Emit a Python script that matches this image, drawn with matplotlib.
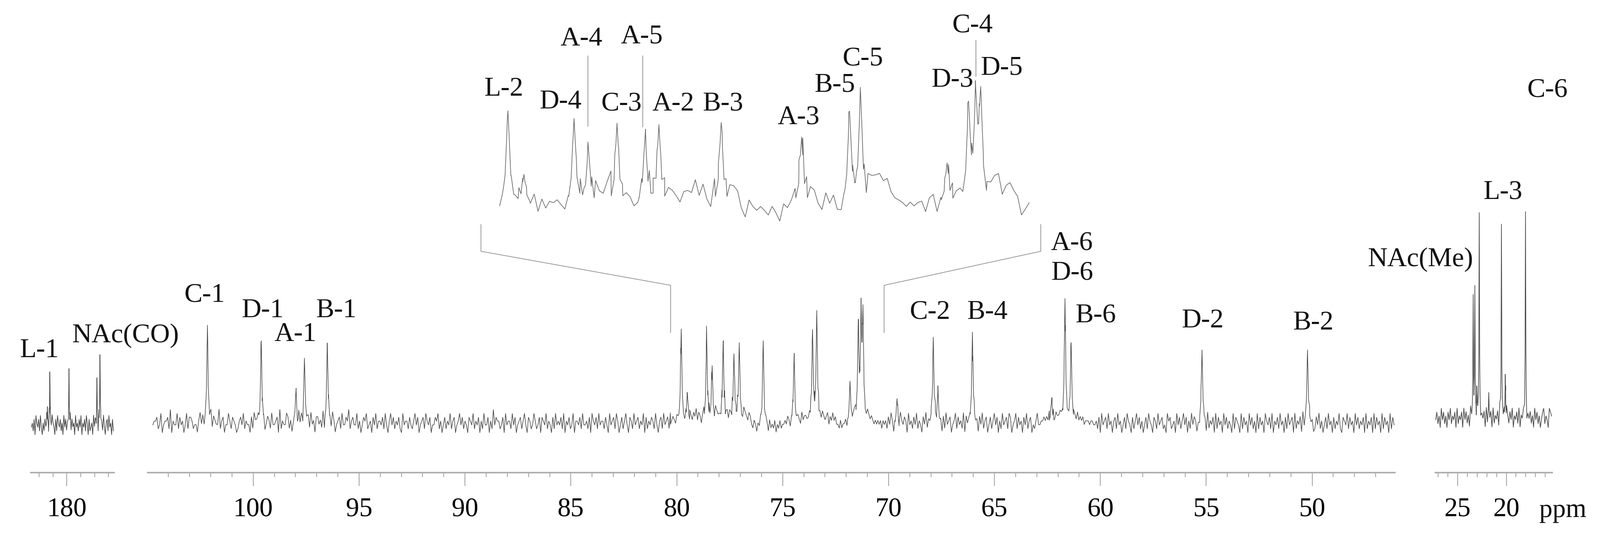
import numpy as np
import matplotlib
matplotlib.use("Agg")
import matplotlib.pyplot as plt

plt.rcParams["font.family"] = ["Liberation Serif", "DejaVu Serif"]

# ---------------------------------------------------------------
# 13C NMR peak list (ppm, line height in px above baseline)
# ---------------------------------------------------------------
main_ppm = [102.16, 99.62, 97.98, 97.58, 96.50,
            79.79, 79.50, 78.59, 78.33, 77.81, 77.30, 77.05, 75.92, 74.46,
            73.59, 73.39, 71.82, 71.43, 71.30, 71.21, 69.60,
            67.89, 67.67, 66.04, 62.30, 61.67, 61.38, 55.20, 50.22]
main_h = [230, 193, 77, 152, 188,
          220, 68, 200, 130, 190, 158, 185, 193, 159,
          212, 258, 95, 222, 226, 243, 57,
          200, 70, 214, 57, 290, 185, 172, 172]

left_ppm = [182.80, 182.45, 179.69, 175.67, 175.23]
left_h = [42, 125, 133, 110, 165]

right_ppm = [23.40, 23.23, 23.02, 22.78, 21.80, 20.50, 20.10, 18.03]
right_h = [280, 300, 60, 480, 59, 455, 100, 485]

# baseline noise, one digit per sample (4.5 = baseline level)
main_noise = [
    (104.74, 80.3,
     "4556347245563825447364524736653442574635524736544835624475365423"
     "5647354426375564735246537445628354476352455374624556374526645372"
     "4465375245637446583564473524657345264735546374257463546327455364"
     "3574624563754624465735246354735624574635426547354625374462538465"
     "5346274553746245635742653475346265473542637454637254634725546374"
     "4536275463745536427456375246357426537456354726354653742563745637"),
    (80.3, 70.2,
     "4565465576546" "5676576857646758675765876" "6575867576857685765876576"
     "4354243534354253435243534" "45465356545654756655" "676575686576567465756"
     "443534453445" "5676576767657656" "5454545354"),
    (70.2, 46.13,
     "4536475245637546527453647354264735462573645263745624573645372645"
     "5637452647356246357462537456376245736452647356243574"
     "45565657667576676576656756657565645554554"
     "4536274563745256374524637542635746352463754265374563427563452746"
     "3574625374652437465273546273645274635427365427364527463527364527"
     "5463725463745263745627354627354674523647352463745263547326547364"
     "52746354627354627364527364527364"),
]
left_noise = [(185.1, 173.3,
               "4536275463742536475236475426375463527463542736452745364725463752"
               "6345274635274653742563745263")]
right_noise = [(27.25, 15.35,
                "4635274635264735462735462746352746352647354627354627"
                "3546273546275364725463725463725463527463524673542765")]

# inset (zoomed 80-70 ppm) baseline, px above baseline
inset_noise = [-14, 5, 0, 10, 5, 25, 10, 15, -4, 21, -18, 11, -10, 6, 2, 8, -5, -20,
               -5, 10, 20, 36, 10, 20, 30, 45, 25, 20, 45, 60, 35, 20, 25, 18, 11, -11,
               -8, 21, 20, 45, 35, 30, 20, 43, 32, 29, 18, 4, 29, 32, 27, 57, 20, 46,
               10, -11, 46, 35, 20, 35, 38, 40, 30, -10, -30, 10, -5, -14, -5, -14, -25,
               -5, -20, -40, 0, -10, 5, 25, 50, 40, 45, 35, 30, 0, -14, 25, 0, 18, -18,
               -25, 0, 25, 20, 15, 15, 35, 55, 60, 65, 70, 54, 60, 29, 15, 10, 4, -5, 5,
               -4, 4, 7, -18, 14, 21, -21, 7, 21, 32, 35, 20, 21, 7, 30, 30, 25, 20, 20,
               25, 40, 61, 68, 21, 43, 50, 32, 18, -25, -11, 4]
inset_range = (79.94, 70.33)
zoom_window = (80.29, 70.21)

# assignments: (text, ppm, baseline height)
main_labels = [("C-1", 102.29, 285), ("D-1", 99.55, 249), ("A-1", 98.0, 193),
               ("B-1", 96.09, 249), ("C-2", 68.05, 245), ("B-4", 65.35, 245),
               ("A-6", 61.34, 408), ("D-6", 61.34, 338), ("B-6", 60.22, 237),
               ("D-2", 55.18, 225), ("B-2", 49.95, 220)]
left_labels = [("L-1", 184.0, 160), ("NAc(CO)", 171.6, 196)]
right_labels = [("NAc(Me)", 28.84, 358), ("L-3", 20.38, 516), ("C-6", 15.79, 755)]
inset_labels = [("L-2", 79.87, 257), ("D-4", 78.84, 227), ("A-4", 78.46, 375),
                ("A-5", 77.36, 380), ("C-3", 77.73, 222), ("A-2", 76.79, 222),
                ("B-3", 75.89, 222), ("A-3", 74.52, 191), ("B-5", 73.86, 266),
                ("C-5", 73.35, 328), ("D-3", 71.73, 278), ("C-4", 71.36, 407),
                ("D-5", 70.83, 307)]
inset_leaders = [(78.34, 351, 186), (77.35, 351, 184), (71.30, 388, 303)]

# ---------------------------------------------------------------
W, H = 3766, 1270
LINE = "#454545"
GREY = "#8c8c8c"
AXIS_Y = 1111
NOISE_STEP = 9
LABEL_FS = 46
TICK_FS = 45


def build_trace(segments, peaks, heights, hw, digits=True):
    xs, ys = [], []
    for a, b, vals in segments:
        if digits:
            v = (np.array([int(c) for c in vals], float) - 4.5) * NOISE_STEP
        else:
            v = np.array(vals, float)
        xs.append(np.linspace(a, b, len(v)))
        ys.append(v)
    lo = min(min(s[0], s[1]) for s in segments)
    hi = max(max(s[0], s[1]) for s in segments)
    for c in peaks:
        if lo < c < hi:
            pts = c + hw * np.array([-3, -1.5, -0.6, 0, 0.6, 1.5, 3])
            xs.append(pts)
            ys.append(np.zeros(len(pts)))
    x = np.concatenate(xs)
    y = np.concatenate(ys)
    order = np.argsort(x)
    x, y = x[order], y[order]
    for c, h in zip(peaks, heights):
        y = y + h / (1 + ((x - c) / hw) ** 2)
    return x, y


fig = plt.figure(figsize=(W / 100, H / 100), dpi=100)


def panel(x0, x1, xlim, base_y, majors, minors, top=0):
    ax = fig.add_axes([x0 / W, 1 - AXIS_Y / H, (x1 - x0) / W, (AXIS_Y - top) / H])
    ax.set_xlim(*xlim)
    ax.set_ylim(-(AXIS_Y - base_y), base_y - top)
    ax.patch.set_alpha(0)
    for s in ["top", "left", "right"]:
        ax.spines[s].set_visible(False)
    ax.spines["bottom"].set_color("#ababab")
    ax.spines["bottom"].set_linewidth(2.5)
    ax.set_yticks([])
    ax.set_xticks(majors)
    ax.set_xticklabels([str(m) for m in majors])
    ax.set_xticks(minors, minor=True)
    ax.tick_params(axis="x", which="major", length=23, width=1.1, color=GREY,
                   labelsize=TICK_FS, pad=19)
    ax.tick_params(axis="x", which="minor", length=8, width=1.1, color=GREY)
    return ax


ax_l = panel(72, 268, (185.22, 173.23), 1000, [180], [184, 182, 178, 176, 174])
ax_m = panel(346.6, 3282, (105.0, 46.1), 995, list(range(100, 49, -5)),
             [p for p in range(104, 46, -1) if p % 5])
ax_r = panel(3377, 3652, (27.31, 15.31), 983, [25, 20],
             [p for p in range(27, 15, -1) if p % 5])

x, y = build_trace(left_noise, left_ppm, left_h, 0.04)
ax_l.plot(x, y, color=LINE, lw=1.1)
x, y = build_trace(main_noise, main_ppm, main_h, 0.035)
ax_m.plot(x, y, color=LINE, lw=1.0)
x, y = build_trace(right_noise, right_ppm, right_h, 0.03)
ax_r.plot(x, y, color=LINE, lw=1.1)

for ax, labels in [(ax_l, left_labels), (ax_m, main_labels), (ax_r, right_labels)]:
    for t, px, py in labels:
        ax.text(px, py, t, ha="center", va="baseline", fontsize=LABEL_FS,
                color="#111111", clip_on=False)

ax_r.text(14.18, -233, "ppm", ha="center", va="baseline", fontsize=TICK_FS,
          color="#111111", clip_on=False)

# inset: zoom of 80-70 ppm
INSET_BASE = 482
ax_in = fig.add_axes([1131.7 / W, 1 - 600 / H, (2449 - 1131.7) / W, 600 / H])
ax_in.set_xlim(80.28, 70.12)
ax_in.set_ylim(-(600 - INSET_BASE), INSET_BASE)
ax_in.axis("off")
x, y = build_trace([(inset_range[0], inset_range[1], inset_noise)],
                   main_ppm, main_h, 0.035, digits=False)
ax_in.plot(x, y, color="#666666", lw=1.1)
for t, px, py in inset_labels:
    ax_in.text(px, py, t, ha="center", va="baseline", fontsize=LABEL_FS,
               color="#111111", clip_on=False)
for px, y0, y1 in inset_leaders:
    ax_in.plot([px, px], [y0, y1], color="#777777", lw=1.0, clip_on=False)

# bracket lines linking inset with its ppm window on the main axis
inv = ax_m.transData.inverted()
for edge, target in [(ax_in.get_xlim()[0], zoom_window[0]),
                     (ax_in.get_xlim()[1], zoom_window[1])]:
    p1 = inv.transform(ax_in.transData.transform((edge, -46)))
    p2 = inv.transform(ax_in.transData.transform((edge, -109)))
    xs = [p1[0], p2[0], target, target]
    ys = [p1[1], p2[1], 324, 213]
    ax_m.plot(xs, ys, color="#888888", lw=1.1, clip_on=False)

fig.savefig("out.png", dpi=100)
